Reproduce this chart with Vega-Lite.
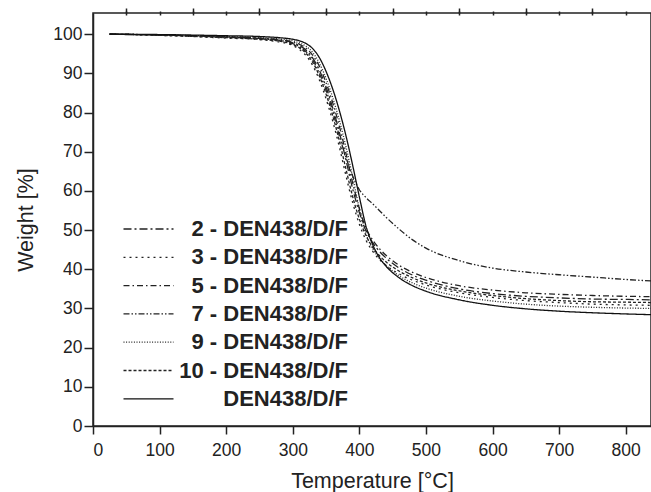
{
"$schema": "https://vega.github.io/schema/vega-lite/v6.json",
"width": 558, "height": 413,
"autosize": {"type": "none"},
"padding": {"left": 93, "top": 13, "right": 0, "bottom": 66},
"background": "white",
"config": {
  "font": "Liberation Sans",
  "view": {"stroke": "#222", "strokeWidth": 1.5},
  "axis": {"labelFont": "Liberation Sans", "titleFont": "Liberation Sans", "labelFontSize": 17.5, "titleFontSize": 21.5, "titleFontWeight": "normal", "labelColor": "#222", "titleColor": "#222", "domainColor": "#222", "tickColor": "#222", "domainWidth": 1.5, "tickWidth": 1.5, "grid": false},
  "legend": {"labelFont": "Liberation Sans", "labelFontSize": 22, "labelFontWeight": "bold", "labelColor": "#222"}
},
"datasets": {"tga": [
{"s":"2 - DEN438/D/F","t":25,"w":100},{"s":"2 - DEN438/D/F","t":100,"w":99.8},{"s":"2 - DEN438/D/F","t":200,"w":99.3},{"s":"2 - DEN438/D/F","t":250,"w":98.9},{"s":"2 - DEN438/D/F","t":280,"w":98.5},{"s":"2 - DEN438/D/F","t":300,"w":97.8},{"s":"2 - DEN438/D/F","t":310,"w":97.1},{"s":"2 - DEN438/D/F","t":320,"w":95.9},{"s":"2 - DEN438/D/F","t":330,"w":93.9},{"s":"2 - DEN438/D/F","t":340,"w":90.8},{"s":"2 - DEN438/D/F","t":350,"w":86.5},{"s":"2 - DEN438/D/F","t":360,"w":81.2},{"s":"2 - DEN438/D/F","t":370,"w":75.0},{"s":"2 - DEN438/D/F","t":380,"w":67.8},{"s":"2 - DEN438/D/F","t":390,"w":60.5},{"s":"2 - DEN438/D/F","t":400,"w":54.5},{"s":"2 - DEN438/D/F","t":410,"w":49.8},{"s":"2 - DEN438/D/F","t":420,"w":46.8},{"s":"2 - DEN438/D/F","t":430,"w":44.6},{"s":"2 - DEN438/D/F","t":440,"w":42.9},{"s":"2 - DEN438/D/F","t":460,"w":40.3},{"s":"2 - DEN438/D/F","t":480,"w":38.5},{"s":"2 - DEN438/D/F","t":500,"w":37.2},{"s":"2 - DEN438/D/F","t":550,"w":35.0},{"s":"2 - DEN438/D/F","t":600,"w":33.8},{"s":"2 - DEN438/D/F","t":650,"w":33.1},{"s":"2 - DEN438/D/F","t":700,"w":32.7},{"s":"2 - DEN438/D/F","t":750,"w":32.4},{"s":"2 - DEN438/D/F","t":800,"w":32.3},{"s":"2 - DEN438/D/F","t":840,"w":32.2},
{"s":"3 - DEN438/D/F","t":25,"w":100},{"s":"3 - DEN438/D/F","t":100,"w":99.7},{"s":"3 - DEN438/D/F","t":200,"w":99.0},{"s":"3 - DEN438/D/F","t":250,"w":98.6},{"s":"3 - DEN438/D/F","t":280,"w":98.0},{"s":"3 - DEN438/D/F","t":300,"w":97.1},{"s":"3 - DEN438/D/F","t":310,"w":96.1},{"s":"3 - DEN438/D/F","t":320,"w":94.5},{"s":"3 - DEN438/D/F","t":330,"w":92.0},{"s":"3 - DEN438/D/F","t":340,"w":88.3},{"s":"3 - DEN438/D/F","t":350,"w":83.5},{"s":"3 - DEN438/D/F","t":360,"w":77.8},{"s":"3 - DEN438/D/F","t":370,"w":71.2},{"s":"3 - DEN438/D/F","t":380,"w":63.8},{"s":"3 - DEN438/D/F","t":390,"w":57.0},{"s":"3 - DEN438/D/F","t":400,"w":51.5},{"s":"3 - DEN438/D/F","t":410,"w":47.4},{"s":"3 - DEN438/D/F","t":420,"w":44.6},{"s":"3 - DEN438/D/F","t":430,"w":42.5},{"s":"3 - DEN438/D/F","t":440,"w":41.0},{"s":"3 - DEN438/D/F","t":460,"w":38.8},{"s":"3 - DEN438/D/F","t":480,"w":37.2},{"s":"3 - DEN438/D/F","t":500,"w":36.0},{"s":"3 - DEN438/D/F","t":550,"w":34.0},{"s":"3 - DEN438/D/F","t":600,"w":32.8},{"s":"3 - DEN438/D/F","t":650,"w":32.0},{"s":"3 - DEN438/D/F","t":700,"w":31.5},{"s":"3 - DEN438/D/F","t":750,"w":31.1},{"s":"3 - DEN438/D/F","t":800,"w":30.9},{"s":"3 - DEN438/D/F","t":840,"w":30.8},
{"s":"5 - DEN438/D/F","t":25,"w":100},{"s":"5 - DEN438/D/F","t":100,"w":99.8},{"s":"5 - DEN438/D/F","t":200,"w":99.3},{"s":"5 - DEN438/D/F","t":250,"w":99.0},{"s":"5 - DEN438/D/F","t":280,"w":98.6},{"s":"5 - DEN438/D/F","t":300,"w":98.0},{"s":"5 - DEN438/D/F","t":310,"w":97.4},{"s":"5 - DEN438/D/F","t":320,"w":96.4},{"s":"5 - DEN438/D/F","t":330,"w":94.6},{"s":"5 - DEN438/D/F","t":340,"w":91.8},{"s":"5 - DEN438/D/F","t":350,"w":87.6},{"s":"5 - DEN438/D/F","t":360,"w":82.5},{"s":"5 - DEN438/D/F","t":370,"w":76.5},{"s":"5 - DEN438/D/F","t":380,"w":69.5},{"s":"5 - DEN438/D/F","t":390,"w":62.0},{"s":"5 - DEN438/D/F","t":400,"w":55.5},{"s":"5 - DEN438/D/F","t":410,"w":50.5},{"s":"5 - DEN438/D/F","t":420,"w":47.5},{"s":"5 - DEN438/D/F","t":430,"w":45.3},{"s":"5 - DEN438/D/F","t":440,"w":43.6},{"s":"5 - DEN438/D/F","t":460,"w":41.0},{"s":"5 - DEN438/D/F","t":480,"w":39.2},{"s":"5 - DEN438/D/F","t":500,"w":37.9},{"s":"5 - DEN438/D/F","t":550,"w":35.8},{"s":"5 - DEN438/D/F","t":600,"w":34.7},{"s":"5 - DEN438/D/F","t":650,"w":34.0},{"s":"5 - DEN438/D/F","t":700,"w":33.6},{"s":"5 - DEN438/D/F","t":750,"w":33.3},{"s":"5 - DEN438/D/F","t":800,"w":33.1},{"s":"5 - DEN438/D/F","t":840,"w":33.0},
{"s":"7 - DEN438/D/F","t":25,"w":100},{"s":"7 - DEN438/D/F","t":100,"w":99.8},{"s":"7 - DEN438/D/F","t":200,"w":99.2},{"s":"7 - DEN438/D/F","t":250,"w":98.8},{"s":"7 - DEN438/D/F","t":280,"w":98.4},{"s":"7 - DEN438/D/F","t":300,"w":97.6},{"s":"7 - DEN438/D/F","t":310,"w":96.8},{"s":"7 - DEN438/D/F","t":320,"w":95.5},{"s":"7 - DEN438/D/F","t":330,"w":93.4},{"s":"7 - DEN438/D/F","t":340,"w":90.0},{"s":"7 - DEN438/D/F","t":350,"w":85.7},{"s":"7 - DEN438/D/F","t":360,"w":80.3},{"s":"7 - DEN438/D/F","t":370,"w":74.0},{"s":"7 - DEN438/D/F","t":380,"w":68.5},{"s":"7 - DEN438/D/F","t":390,"w":63.8},{"s":"7 - DEN438/D/F","t":400,"w":60.3},{"s":"7 - DEN438/D/F","t":410,"w":58.3},{"s":"7 - DEN438/D/F","t":420,"w":56.7},{"s":"7 - DEN438/D/F","t":430,"w":55.0},{"s":"7 - DEN438/D/F","t":440,"w":53.3},{"s":"7 - DEN438/D/F","t":460,"w":50.2},{"s":"7 - DEN438/D/F","t":480,"w":47.5},{"s":"7 - DEN438/D/F","t":500,"w":45.4},{"s":"7 - DEN438/D/F","t":550,"w":42.2},{"s":"7 - DEN438/D/F","t":600,"w":40.3},{"s":"7 - DEN438/D/F","t":650,"w":39.3},{"s":"7 - DEN438/D/F","t":700,"w":38.6},{"s":"7 - DEN438/D/F","t":750,"w":38.0},{"s":"7 - DEN438/D/F","t":800,"w":37.4},{"s":"7 - DEN438/D/F","t":840,"w":37.0},
{"s":"9 - DEN438/D/F","t":25,"w":100},{"s":"9 - DEN438/D/F","t":100,"w":99.8},{"s":"9 - DEN438/D/F","t":200,"w":99.4},{"s":"9 - DEN438/D/F","t":250,"w":99.1},{"s":"9 - DEN438/D/F","t":280,"w":98.8},{"s":"9 - DEN438/D/F","t":300,"w":98.3},{"s":"9 - DEN438/D/F","t":310,"w":97.8},{"s":"9 - DEN438/D/F","t":320,"w":96.9},{"s":"9 - DEN438/D/F","t":330,"w":95.3},{"s":"9 - DEN438/D/F","t":340,"w":92.6},{"s":"9 - DEN438/D/F","t":350,"w":88.7},{"s":"9 - DEN438/D/F","t":360,"w":83.8},{"s":"9 - DEN438/D/F","t":370,"w":78.0},{"s":"9 - DEN438/D/F","t":380,"w":71.2},{"s":"9 - DEN438/D/F","t":390,"w":63.5},{"s":"9 - DEN438/D/F","t":400,"w":55.5},{"s":"9 - DEN438/D/F","t":410,"w":49.0},{"s":"9 - DEN438/D/F","t":420,"w":45.3},{"s":"9 - DEN438/D/F","t":430,"w":42.8},{"s":"9 - DEN438/D/F","t":440,"w":41.0},{"s":"9 - DEN438/D/F","t":460,"w":38.3},{"s":"9 - DEN438/D/F","t":480,"w":36.5},{"s":"9 - DEN438/D/F","t":500,"w":35.2},{"s":"9 - DEN438/D/F","t":550,"w":33.1},{"s":"9 - DEN438/D/F","t":600,"w":31.9},{"s":"9 - DEN438/D/F","t":650,"w":31.1},{"s":"9 - DEN438/D/F","t":700,"w":30.6},{"s":"9 - DEN438/D/F","t":750,"w":30.3},{"s":"9 - DEN438/D/F","t":800,"w":30.1},{"s":"9 - DEN438/D/F","t":840,"w":30.0},
{"s":"10 - DEN438/D/F","t":25,"w":100},{"s":"10 - DEN438/D/F","t":100,"w":99.7},{"s":"10 - DEN438/D/F","t":200,"w":99.1},{"s":"10 - DEN438/D/F","t":250,"w":98.7},{"s":"10 - DEN438/D/F","t":280,"w":98.2},{"s":"10 - DEN438/D/F","t":300,"w":97.4},{"s":"10 - DEN438/D/F","t":310,"w":96.5},{"s":"10 - DEN438/D/F","t":320,"w":95.1},{"s":"10 - DEN438/D/F","t":330,"w":92.8},{"s":"10 - DEN438/D/F","t":340,"w":89.3},{"s":"10 - DEN438/D/F","t":350,"w":84.7},{"s":"10 - DEN438/D/F","t":360,"w":79.2},{"s":"10 - DEN438/D/F","t":370,"w":72.7},{"s":"10 - DEN438/D/F","t":380,"w":65.5},{"s":"10 - DEN438/D/F","t":390,"w":58.5},{"s":"10 - DEN438/D/F","t":400,"w":52.8},{"s":"10 - DEN438/D/F","t":410,"w":48.6},{"s":"10 - DEN438/D/F","t":420,"w":45.6},{"s":"10 - DEN438/D/F","t":430,"w":43.5},{"s":"10 - DEN438/D/F","t":440,"w":41.9},{"s":"10 - DEN438/D/F","t":460,"w":39.5},{"s":"10 - DEN438/D/F","t":480,"w":37.8},{"s":"10 - DEN438/D/F","t":500,"w":36.5},{"s":"10 - DEN438/D/F","t":550,"w":34.5},{"s":"10 - DEN438/D/F","t":600,"w":33.3},{"s":"10 - DEN438/D/F","t":650,"w":32.5},{"s":"10 - DEN438/D/F","t":700,"w":32.0},{"s":"10 - DEN438/D/F","t":750,"w":31.7},{"s":"10 - DEN438/D/F","t":800,"w":31.6},{"s":"10 - DEN438/D/F","t":840,"w":31.5},
{"s":"DEN438/D/F","t":25,"w":100},{"s":"DEN438/D/F","t":100,"w":99.9},{"s":"DEN438/D/F","t":200,"w":99.6},{"s":"DEN438/D/F","t":250,"w":99.4},{"s":"DEN438/D/F","t":280,"w":99.1},{"s":"DEN438/D/F","t":300,"w":98.7},{"s":"DEN438/D/F","t":310,"w":98.3},{"s":"DEN438/D/F","t":320,"w":97.6},{"s":"DEN438/D/F","t":330,"w":96.3},{"s":"DEN438/D/F","t":340,"w":94.0},{"s":"DEN438/D/F","t":350,"w":90.5},{"s":"DEN438/D/F","t":360,"w":86.0},{"s":"DEN438/D/F","t":370,"w":80.5},{"s":"DEN438/D/F","t":380,"w":74.0},{"s":"DEN438/D/F","t":390,"w":66.5},{"s":"DEN438/D/F","t":400,"w":58.5},{"s":"DEN438/D/F","t":410,"w":51.0},{"s":"DEN438/D/F","t":420,"w":46.3},{"s":"DEN438/D/F","t":430,"w":43.0},{"s":"DEN438/D/F","t":440,"w":40.8},{"s":"DEN438/D/F","t":460,"w":37.8},{"s":"DEN438/D/F","t":480,"w":35.8},{"s":"DEN438/D/F","t":500,"w":34.4},{"s":"DEN438/D/F","t":550,"w":32.2},{"s":"DEN438/D/F","t":600,"w":30.8},{"s":"DEN438/D/F","t":650,"w":29.9},{"s":"DEN438/D/F","t":700,"w":29.3},{"s":"DEN438/D/F","t":750,"w":28.9},{"s":"DEN438/D/F","t":800,"w":28.6},{"s":"DEN438/D/F","t":840,"w":28.4}
]},
"data": {"name": "tga"},
"resolve": {"axis": {"x": "independent", "y": "independent"}},
"layer": [
  {
    "mark": {"type": "line", "interpolate": "monotone", "clip": true},
    "encoding": {
      "x": {"field": "t", "type": "quantitative", "scale": {"domain": [0, 838], "nice": false, "zero": false},
        "axis": {"title": "Temperature [°C]", "values": [0,100,200,300,400,500,600,700,800], "tickSize": 8, "labelPadding": 7, "titlePadding": 12}},
      "y": {"field": "w", "type": "quantitative", "scale": {"domain": [0, 105.4], "nice": false, "zero": false},
        "axis": {"title": "Weight [%]", "values": [0,10,20,30,40,50,60,70,80,90,100], "tickSize": 9, "labelPadding": 2, "titlePadding": 15}},
      "color": {"field": "s", "type": "nominal", "title": null,
        "sort": ["2 - DEN438/D/F","3 - DEN438/D/F","5 - DEN438/D/F","7 - DEN438/D/F","9 - DEN438/D/F","10 - DEN438/D/F","DEN438/D/F"],
        "scale": {"domain": ["2 - DEN438/D/F","3 - DEN438/D/F","5 - DEN438/D/F","7 - DEN438/D/F","9 - DEN438/D/F","10 - DEN438/D/F","DEN438/D/F"], "range": ["#222","#222","#222","#222","#222","#222","#111"]},
        "legend": {"orient": "none", "legendX": 44.5, "legendY": 205, "symbolType": "M-5,0H5", "symbolSize": 100, "labelAlign": "right", "labelOffset": 188.5, "rowPadding": 6.3, "labelLimit": 300}},
      "strokeDash": {"field": "s", "type": "nominal", "title": null,
        "scale": {"domain": ["2 - DEN438/D/F","3 - DEN438/D/F","5 - DEN438/D/F","7 - DEN438/D/F","9 - DEN438/D/F","10 - DEN438/D/F","DEN438/D/F"], "range": [[8,3,2,3],[2,4],[6,3,1.5,3],[6,2,1.5,2,1.5,2],[1,1.6],[3,2],[1,0]]}},
      "strokeWidth": {"field": "s", "type": "nominal", "title": null,
        "scale": {"domain": ["2 - DEN438/D/F","3 - DEN438/D/F","5 - DEN438/D/F","7 - DEN438/D/F","9 - DEN438/D/F","10 - DEN438/D/F","DEN438/D/F"], "range": [1.3,1.3,1.3,1.3,1.3,1.3,2.2]}}
    }
  },
  {
    "mark": {"type": "point", "opacity": 0},
    "encoding": {
      "x": {"field": "t", "type": "quantitative", "axis": {"title": null, "labels": false, "domain": false, "values": [50,150,250,350,450,550,650,750], "tickSize": 5}}
    }
  },
  {
    "mark": {"type": "point", "opacity": 0},
    "encoding": {
      "y": {"field": "w", "type": "quantitative", "axis": {"title": null, "labels": false, "domain": false, "values": [5,15,25,35,45,55,65,75,85,95], "tickSize": 5}}
    }
  },
  {
    "mark": {"type": "point", "opacity": 0},
    "encoding": {
      "x": {"field": "t", "type": "quantitative", "axis": {"orient": "top", "title": null, "labels": false, "domain": false, "offset": -2, "values": [50,100,150,200,250,300,350,400,450,500,550,600,650,700,750,800], "tickSize": 4}}
    }
  }
]
}
